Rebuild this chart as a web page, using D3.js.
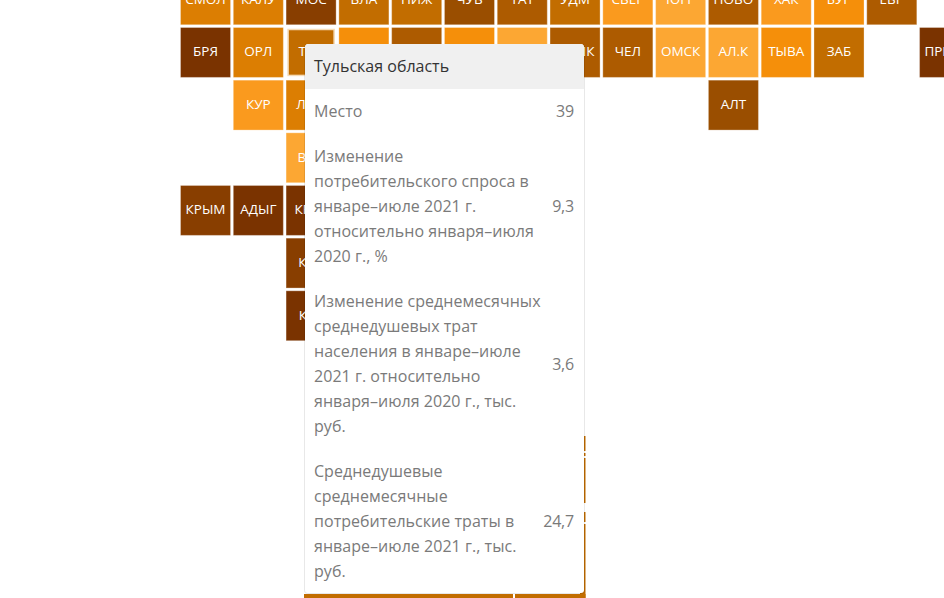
<!DOCTYPE html>
<html lang="ru">
<head>
<meta charset="utf-8">
<script src="https://cdn.jsdelivr.net/npm/d3@7"></script>
<style>
html,body{margin:0;padding:0;background:#fff;width:944px;height:598px;overflow:hidden;font-family:"Open Sans",sans-serif}
svg{position:absolute;left:0;top:0}
.tile-label{font:500 13.5px "Open Sans",sans-serif;fill:#fff;text-anchor:middle;dominant-baseline:central}
#tip{position:absolute;left:304px;top:44px;width:281px;height:550px;box-sizing:border-box;background:#fff;background-clip:padding-box;border:1px solid rgba(0,0,0,.09);border-top:0;border-radius:4px;overflow:hidden;font-size:16px;line-height:25px;color:#7a7a7a}
#tip .head{background:#f0f0f0;color:#333;height:45px;box-sizing:border-box;padding:10px 9px}
#tip .row{display:flex;justify-content:space-between;align-items:center;padding:10px 10px 10px 9px}
#tip .lbl div{white-space:nowrap;letter-spacing:.04px}
#tip .val{letter-spacing:-.2px}
</style>
</head>
<body>
<svg id="map" width="944" height="598"></svg>
<div id="tip"></div>
<script>
// Tile grid: label, column, row, shade level (0 = lightest, 8 = darkest)
const labels  = ["СМОЛ","КАЛУ","МОС","ВЛА","НИЖ","ЧУВ","ТАТ","УДМ","СВЕР","ЮГР","НОВО","ХАК","БУР","ЕВР",
                 "БРЯ","ОРЛ","РЯЗ","МОРД","ПЕН","САМ","БАШК","ЧЕЛ","ОМСК","АЛ.К","ТЫВА","ЗАБ","ПРИМ",
                 "КУР","ЛИП","АЛТ","ВОР","КРЫМ","АДЫГ","КРАС","КЧР","КБР"];
const columns = [0,1,2,3,4,5,6,7,8,9,10,11,12,13,
                 0,1,3,4,5,6,7,8,9,10,11,12,14,
                 1,2,10,2,0,1,2,2,2];
const rows    = [0,0,0,0,0,0,0,0,0,0,0,0,0,0,
                 1,1,1,1,1,1,1,1,1,1,1,1,1,
                 2,2,2,3,4,4,4,5,6];
const levels  = [3,3,7,4,4,6,5,4,1,0,5,1,2,5,
                 8,3,2,5,2,0,5,5,0,0,2,4,8,
                 1,3,6,0,7,8,8,7,8];
const palette = ["#fca733","#fa9a1e","#f58f0a","#dc7e02","#c26d00","#ad5b00","#9a4e00","#883e00","#7a3300"];

// Highlighted region
const activeLabel  = "ТУЛ";
const activeColumn = 2;
const activeRow    = 1;
const activeLevel  = 4;

// Tooltip content
const tipTitle  = "Тульская область";
const tipLabels = [
  ["Место"],
  ["Изменение","потребительского спроса в","январе–июле 2021 г.","относительно января–июля","2020 г., %"],
  ["Изменение среднемесячных","среднедушевых трат","населения в январе–июле","2021 г. относительно","января–июля 2020 г., тыс.","руб."],
  ["Среднедушевые","среднемесячные","потребительские траты в","январе–июле 2021 г., тыс.","руб."]
];
const tipValues = ["39","9,3","3,6","24,7"];

const svg = d3.select("#map");
const colStep = 52.79, rowStep = 52.66, pad = 0.033;
const x = d3.scaleBand().domain(d3.range(15)).range([180, 180 + colStep * (15 - pad)]).paddingInner(pad).paddingOuter(0);
const y = d3.scaleBand().domain(d3.range(7)).range([-25.66, -25.66 + rowStep * (7 - pad)]).paddingInner(pad).paddingOuter(0);
const shade = d3.scaleOrdinal().domain(d3.range(palette.length)).range(palette);

// Tiles partly hidden behind the tooltip (bottom and right edges peek out)
const under = svg.append("g").attr("fill", shade(4));
under.append("rect").attr("x", 304).attr("y", 594).attr("width", 209).attr("height", 4);
under.append("rect").attr("x", 515).attr("y", 594).attr("width", 70.5).attr("height", 4);
[[436,451],[453,456],[458,503],[512,522],[524,598]].forEach(([a,b]) =>
  under.append("rect").attr("x", 580).attr("y", a).attr("width", 5.5).attr("height", b - a));

const tiles = d3.range(labels.length).map(i => ({label: labels[i], col: columns[i], row: rows[i], level: levels[i]}));
const g = svg.selectAll("g.tile").data(tiles).join("g").attr("class", "tile")
  .attr("transform", d => `translate(${x(d.col)},${y(d.row)})`);
g.append("rect")
  .attr("x", .5).attr("y", .5)
  .attr("width", x.bandwidth() - 1).attr("height", y.bandwidth() - 1)
  .attr("fill", d => shade(d.level))
  .attr("stroke", "#fff").attr("stroke-opacity", .3);
g.append("text").attr("class", "tile-label")
  .attr("x", x.bandwidth() / 2).attr("y", y.bandwidth() / 2 - 1)
  .text(d => d.label);

// Highlighted tile: shrunken with a pale outline
const inset = 2.5;
const act = svg.append("g").attr("transform", `translate(${x(activeColumn)},${y(activeRow)})`);
act.append("rect")
  .attr("x", inset).attr("y", inset)
  .attr("width", x.bandwidth() - 2 * inset).attr("height", y.bandwidth() - 2 * inset)
  .attr("fill", shade(activeLevel)).attr("stroke", "#f6dcb8").attr("stroke-width", 1.5);
act.append("text").attr("class", "tile-label")
  .attr("x", x.bandwidth() / 2).attr("y", y.bandwidth() / 2 - 1).text(activeLabel);

// Tooltip
const tip = d3.select("#tip");
tip.append("div").attr("class", "head").text(tipTitle);
const tipRows = tip.selectAll("div.row").data(tipLabels).join("div").attr("class", "row");
tipRows.append("div").attr("class", "lbl").selectAll("div").data(d => d).join("div").text(d => d);
tipRows.append("div").attr("class", "val").text((d, i) => tipValues[i]);
</script>
</body>
</html>
